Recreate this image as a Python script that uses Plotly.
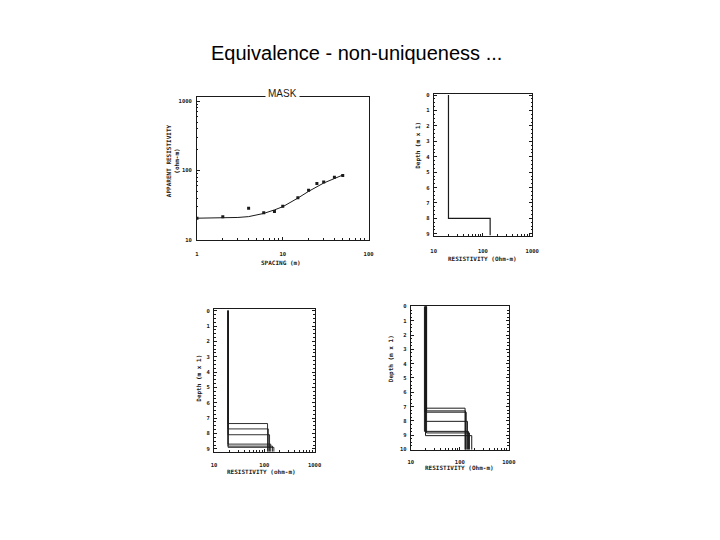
import plotly.graph_objects as go

W, H = 720, 540

# ---------------- data ----------------
# Panel 1: apparent resistivity sounding curve (MASK)
spacing_obs = [1, 2, 4, 6, 8, 10, 15, 20, 25, 30, 40, 50]
rho_app_obs = [20.5, 21.5, 28.5, 24.5, 25.5, 30.5, 40.5, 52, 65, 68, 80, 85]
spacing_fit = [1, 2, 3, 4, 5, 6, 8, 10, 15, 20, 30, 40, 50]
rho_app_fit = [20.5, 20.7, 21.0, 21.6, 22.6, 24.0, 27.0, 30.0, 40.0, 50.0, 66.0, 77.0, 86.0]

# Panel 2: best-fit two-layer model
p2_rho1 = [20]
p2_depth = [8.0]
p2_rho2 = [140]

# Panel 3: equivalent models (set A)
p3_rho1 = [19, 19, 19, 19, 19, 19]
p3_depth = [7.35, 7.7, 8.08, 8.69, 8.82, 8.9]
p3_rho2 = [116, 120, 127, 134, 145, 155]

# Panel 4: equivalent models (set B)
p4_rho1 = [20.5, 21, 19.5, 20, 19, 21, 20]
p4_depth = [7.11, 7.3, 7.39, 8.03, 8.73, 8.84, 9.03]
p4_rho2 = [128, 130, 135, 143, 150, 157, 175]

depth_ticks_9 = list(range(0, 10))
depth_ticks_10 = list(range(0, 11))

# ---------------- helpers ----------------
def px_x(p):
    return p / W

def px_y(p):
    return 1 - p / H

INK = "#1a1a1a"
TICKFONT = dict(family="DejaVu Sans Mono", size=5.5, color=INK, weight="bold")
TITLEFONT = dict(family="DejaVu Sans Mono", size=6, color=INK, weight="bold")

log_major = [1, 10, 100, 1000]
log_minor = [m * d for d in [1, 10, 100] for m in range(2, 10)]


def log_axis(dom, rng, anchor, standoff):
    return dict(
        type="log", domain=dom, range=rng, anchor=anchor,
        showline=True, linecolor=INK, linewidth=1, mirror=True,
        showgrid=False, zeroline=False,
        ticks="inside", ticklen=3, tickcolor=INK, tickwidth=1,
        tickmode="array", tickvals=log_major,
        ticktext=[str(v) for v in log_major],
        tickfont=TICKFONT, ticklabelstandoff=standoff,
        minor=dict(ticks="inside", ticklen=1.5, tickcolor=INK,
                   tickmode="array", tickvals=log_minor, showgrid=False),
    )


def depth_axis(dom, rng, anchor, ticks):
    return dict(
        domain=dom, range=rng, anchor=anchor,
        showline=True, linecolor=INK, linewidth=1, mirror="ticks",
        showgrid=False, zeroline=False,
        ticks="inside", ticklen=3, tickcolor=INK, tickwidth=1,
        tickmode="array", tickvals=ticks, ticktext=[str(t) for t in ticks],
        tickfont=TICKFONT, ticklabelstandoff=2,
        minor=dict(ticks="inside", ticklen=1.5, tickcolor=INK, dtick=0.25,
                   showgrid=False),
    )


fig = go.Figure()

# Panel 1
fig.add_trace(go.Scatter(x=spacing_fit, y=rho_app_fit, mode="lines",
                         line=dict(color=INK, width=1), xaxis="x", yaxis="y",
                         showlegend=False, hoverinfo="skip"))
fig.add_trace(go.Scatter(x=spacing_obs, y=rho_app_obs, mode="markers",
                         marker=dict(color=INK, size=3, symbol="square"),
                         xaxis="x", yaxis="y", showlegend=False))


def add_models(rho1s, depths, rho2s, dmax, xa, ya, width):
    for r1, d, r2 in zip(rho1s, depths, rho2s):
        fig.add_trace(go.Scatter(x=[r1, r1, r2, r2], y=[0, d, d, dmax],
                                 mode="lines", line=dict(color=INK, width=width),
                                 xaxis=xa, yaxis=ya, showlegend=False,
                                 hoverinfo="skip"))


P2_MAX, P3_MAX, P4_MAX = 9.11, 9.19, 10.02
add_models(p2_rho1, p2_depth, p2_rho2, P2_MAX, "x2", "y2", 1.2)
add_models(p3_rho1, p3_depth, p3_rho2, P3_MAX, "x3", "y3", 0.9)
add_models(p4_rho1, p4_depth, p4_rho2, P4_MAX, "x4", "y4", 1.0)

fig.update_layout(
    width=W, height=H, margin=dict(l=0, r=0, t=0, b=0),
    paper_bgcolor="white", plot_bgcolor="white",
    xaxis=log_axis([px_x(196.7), px_x(370.7)], [0, 2], "y", 9),
    yaxis=dict(log_axis([px_y(240), px_y(96)], [1, 3.06], "x", 3),
               tickvals=[10, 100, 1000], ticktext=["10", "100", "1000"]),
    xaxis2=log_axis([px_x(436.7), px_x(536.7)], [1, 3], "y2", 10),
    yaxis2=depth_axis([px_y(235.7), px_y(92.7)], [P2_MAX, -0.08], "x2", depth_ticks_9),
    xaxis3=log_axis([px_x(214), px_x(316)], [1, 3], "y3", 8),
    yaxis3=depth_axis([px_y(454), px_y(310)], [P3_MAX, -0.1], "x3", depth_ticks_9),
    xaxis4=log_axis([px_x(413.5), px_x(513)], [1, 3], "y4", 7),
    yaxis4=depth_axis([px_y(452), px_y(306.5)], [P4_MAX, -0.055], "x4", depth_ticks_10),
)
fig.layout.xaxis.tickvals = [1, 10, 100]
fig.layout.xaxis.ticktext = ["1", "10", "100"]


def ann(text, x, y, font, angle=0, **kw):
    fig.add_annotation(text=text, x=px_x(x), y=px_y(y), xref="paper", yref="paper",
                       showarrow=False, font=font, textangle=angle,
                       xanchor="center", yanchor="middle", **kw)


ann("Equivalence - non-uniqueness ...", 358, 51,
    dict(family="Liberation Sans", size=20, color="black"))
ann("MASK", 283.7, 92, dict(family="Liberation Sans", size=10, color=INK),
    bgcolor="white", borderpad=2)

# axis titles
ann("APPARENT RESISTIVITY<br>(ohm-m)", 172, 160, TITLEFONT, angle=-90)
ann("SPACING (m)", 282, 263, TITLEFONT)
ann("Depth (m x 1)", 421, 145, TITLEFONT, angle=-90)
ann("RESISTIVITY (Ohm-m)", 486, 259, TITLEFONT)
ann("Depth (m x 1)", 199, 380, TITLEFONT, angle=-90)
ann("RESISTIVITY (ohm-m)", 262, 474, TITLEFONT)
ann("Depth (m x 1)", 393, 360, TITLEFONT, angle=-90)
ann("RESISTIVITY (Ohm-m)", 463, 470, TITLEFONT)

fig.write_html("out.html",
               config={"displayModeBar": False},
               post_script="document.body.style.margin='0';document.body.style.padding='0';")
